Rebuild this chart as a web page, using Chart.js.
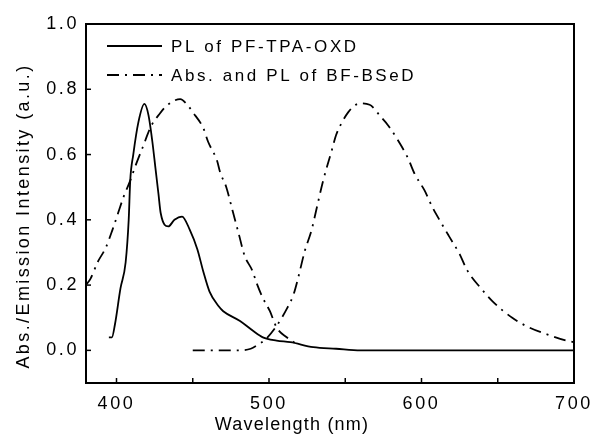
<!DOCTYPE html>
<html>
<head>
<meta charset="utf-8">
<script src="https://cdn.jsdelivr.net/npm/chart.js@4/dist/chart.umd.min.js"></script>
<style>
	html, body { margin: 0; padding: 0; background: #fff; }
	#wrap { width: 593px; height: 440px; }
</style>
</head>
<body>
<div id="wrap"><canvas id="canvas" width="593" height="440"></canvas></div>
<script>
// PL of PF-TPA-OXD (solid)
const wlPF = [395, 397, 399, 402.6, 406, 408, 409, 411, 414.4, 418.3, 421, 423.5, 425.5, 427.5, 429, 434, 438, 443, 448, 453, 457, 461, 467, 470, 481, 489.5, 496, 505, 514, 529, 544, 560, 600, 650, 700];
const plPF = [0.04, 0.04, 0.08, 0.19, 0.27, 0.40, 0.52, 0.60, 0.70, 0.755, 0.72, 0.64, 0.56, 0.48, 0.42, 0.38, 0.40, 0.41, 0.37, 0.31, 0.24, 0.18, 0.135, 0.12, 0.09, 0.06, 0.04, 0.03, 0.025, 0.01, 0.005, 0, 0, 0, 0];

// Abs. of BF-BSeD (dash-dot)
const wlAbs = [380, 383, 387.6, 393, 397.4, 401, 404.6, 409, 412.4, 417, 423, 427.5, 433, 441.8, 446, 450, 457, 460, 466, 468, 472, 476, 480, 484, 489, 492, 496, 500.6, 505, 511.6, 518];
const absBSeD = [0.2, 0.22, 0.27, 0.315, 0.37, 0.42, 0.47, 0.52, 0.565, 0.62, 0.69, 0.72, 0.75, 0.77, 0.755, 0.73, 0.68, 0.64, 0.58, 0.545, 0.50, 0.43, 0.36, 0.29, 0.245, 0.205, 0.16, 0.12, 0.07, 0.04, 0.02];

// PL of BF-BSeD (dash-dot)
const wlPL = [450, 460, 470, 480, 488, 492, 498, 505, 512, 516, 519, 523.5, 528, 531, 535.5, 541, 544, 548, 552, 556, 560, 564, 567, 572.5, 578, 583.7, 591, 595.6, 602, 607, 613, 618, 625, 630, 639, 646.6, 659.5, 670.6, 681.7, 694.7, 700];
const plBSeD = [0, 0, 0, 0, 0.005, 0.015, 0.035, 0.075, 0.13, 0.17, 0.22, 0.305, 0.37, 0.43, 0.52, 0.61, 0.66, 0.70, 0.73, 0.75, 0.757, 0.755, 0.75, 0.72, 0.69, 0.65, 0.59, 0.54, 0.49, 0.44, 0.39, 0.35, 0.295, 0.245, 0.19, 0.15, 0.10, 0.07, 0.05, 0.03, 0.025];

const xTicks = [400, 450, 500, 550, 600, 650, 700];
const yTicks = [0, 0.2, 0.4, 0.6, 0.8, 1.0];

const ink = "#000";
const dashDot = [12, 6, 2, 6];
const pts = (xs, ys) => xs.map((x, i) => ({ x: x, y: ys[i] }));

// frame, inward ticks, titles and legend
const extras = {
	id: "extras",
	beforeDraw(chart) {
		chart.ctx.letterSpacing = "2.6px";
	},
	afterDraw(chart) {
		const ctx = chart.ctx;
		const ca = chart.chartArea;
		const xs = chart.scales.x, ys = chart.scales.y;
		ctx.save();
		ctx.strokeStyle = ink;
		ctx.lineWidth = 2;
		ctx.strokeRect(ca.left, ca.top, ca.right - ca.left, ca.bottom - ca.top);
		ctx.lineWidth = 1.5;
		xTicks.forEach(v => {
			const px = xs.getPixelForValue(v);
			ctx.beginPath(); ctx.moveTo(px, ca.bottom); ctx.lineTo(px, ca.bottom - 5); ctx.stroke();
		});
		yTicks.forEach(v => {
			const py = ys.getPixelForValue(v);
			ctx.beginPath(); ctx.moveTo(ca.left, py); ctx.lineTo(ca.left + 5, py); ctx.stroke();
		});

		// axis titles
		ctx.fillStyle = ink;
		ctx.textAlign = "center";
		ctx.textBaseline = "middle";
		ctx.font = "18px 'Liberation Sans'";
		ctx.letterSpacing = "1.2px";
		ctx.fillText("Wavelength (nm)", 292, 425);
		ctx.save();
		ctx.translate(24, 216);
		ctx.rotate(-Math.PI / 2);
		ctx.letterSpacing = "2.4px";
		ctx.fillText("Abs./Emission Intensity (a.u.)", 0, 0);
		ctx.restore();

		// legend
		ctx.font = "17px 'Liberation Sans'";
		ctx.letterSpacing = "2.6px";
		ctx.textAlign = "left";
		let ly = 46;
		chart.data.datasets.forEach(ds => {
			if (ds.noLegend) return;
			ctx.setLineDash(ds.borderDash || []);
			ctx.lineWidth = 1.8;
			ctx.beginPath(); ctx.moveTo(107, ly); ctx.lineTo(162, ly); ctx.stroke();
			ctx.setLineDash([]);
			ctx.fillText(ds.label, 171, ly + 1);
			ly += 29;
		});
		ctx.restore();
	}
};

const grafico = new Chart(document.getElementById("canvas"), {
	type: "line",
	data: {
		datasets: [
			{
				label: "PL of PF-TPA-OXD",
				data: pts(wlPF, plPF),
				borderColor: ink,
				borderWidth: 1.8,
				pointRadius: 0,
				cubicInterpolationMode: "monotone",
			},
			{
				label: "Abs. and PL of BF-BSeD",
				data: pts(wlAbs, absBSeD),
				borderColor: ink,
				borderWidth: 1.8,
				borderDash: dashDot,
				pointRadius: 0,
				cubicInterpolationMode: "monotone",
			},
			{
				label: "PL of BF-BSeD",
				noLegend: true,
				data: pts(wlPL, plBSeD),
				borderColor: ink,
				borderWidth: 1.8,
				borderDash: dashDot,
				pointRadius: 0,
				cubicInterpolationMode: "monotone",
			},
		],
	},
	options: {
		responsive: false,
		animation: false,
		devicePixelRatio: 1,
		layout: { padding: { top: 24, right: 19, left: 0, bottom: 0 } },
		plugins: {
			legend: { display: false },
			tooltip: { enabled: false },
		},
		scales: {
			x: {
				type: "linear",
				min: 380,
				max: 700,
				afterBuildTicks: s => { s.ticks = xTicks.map(v => ({ value: v })); },
				afterFit: s => { s.height = 57; s.paddingLeft = 0; s.paddingRight = 0; },
				grid: { drawOnChartArea: false, drawTicks: false },
				border: { color: ink, width: 2 },
				ticks: {
					callback: v => (v % 100 === 0 ? v : ""),
					font: { family: "Liberation Sans", size: 18 },
					color: ink,
					padding: 10,
					maxRotation: 0,
					autoSkip: false,
				},
			},
			y: {
				min: -0.1,
				max: 1.0,
				afterBuildTicks: s => { s.ticks = yTicks.map(v => ({ value: v })); },
				afterFit: s => { s.width = 86; s.paddingTop = 0; s.paddingBottom = 0; },
				grid: { drawOnChartArea: false, drawTicks: false },
				border: { color: ink, width: 2 },
				ticks: {
					callback: v => v.toFixed(1),
					font: { family: "Liberation Sans", size: 18 },
					color: ink,
					padding: 7,
				},
			},
		},
	},
	plugins: [extras],
});
</script>
</body>
</html>
